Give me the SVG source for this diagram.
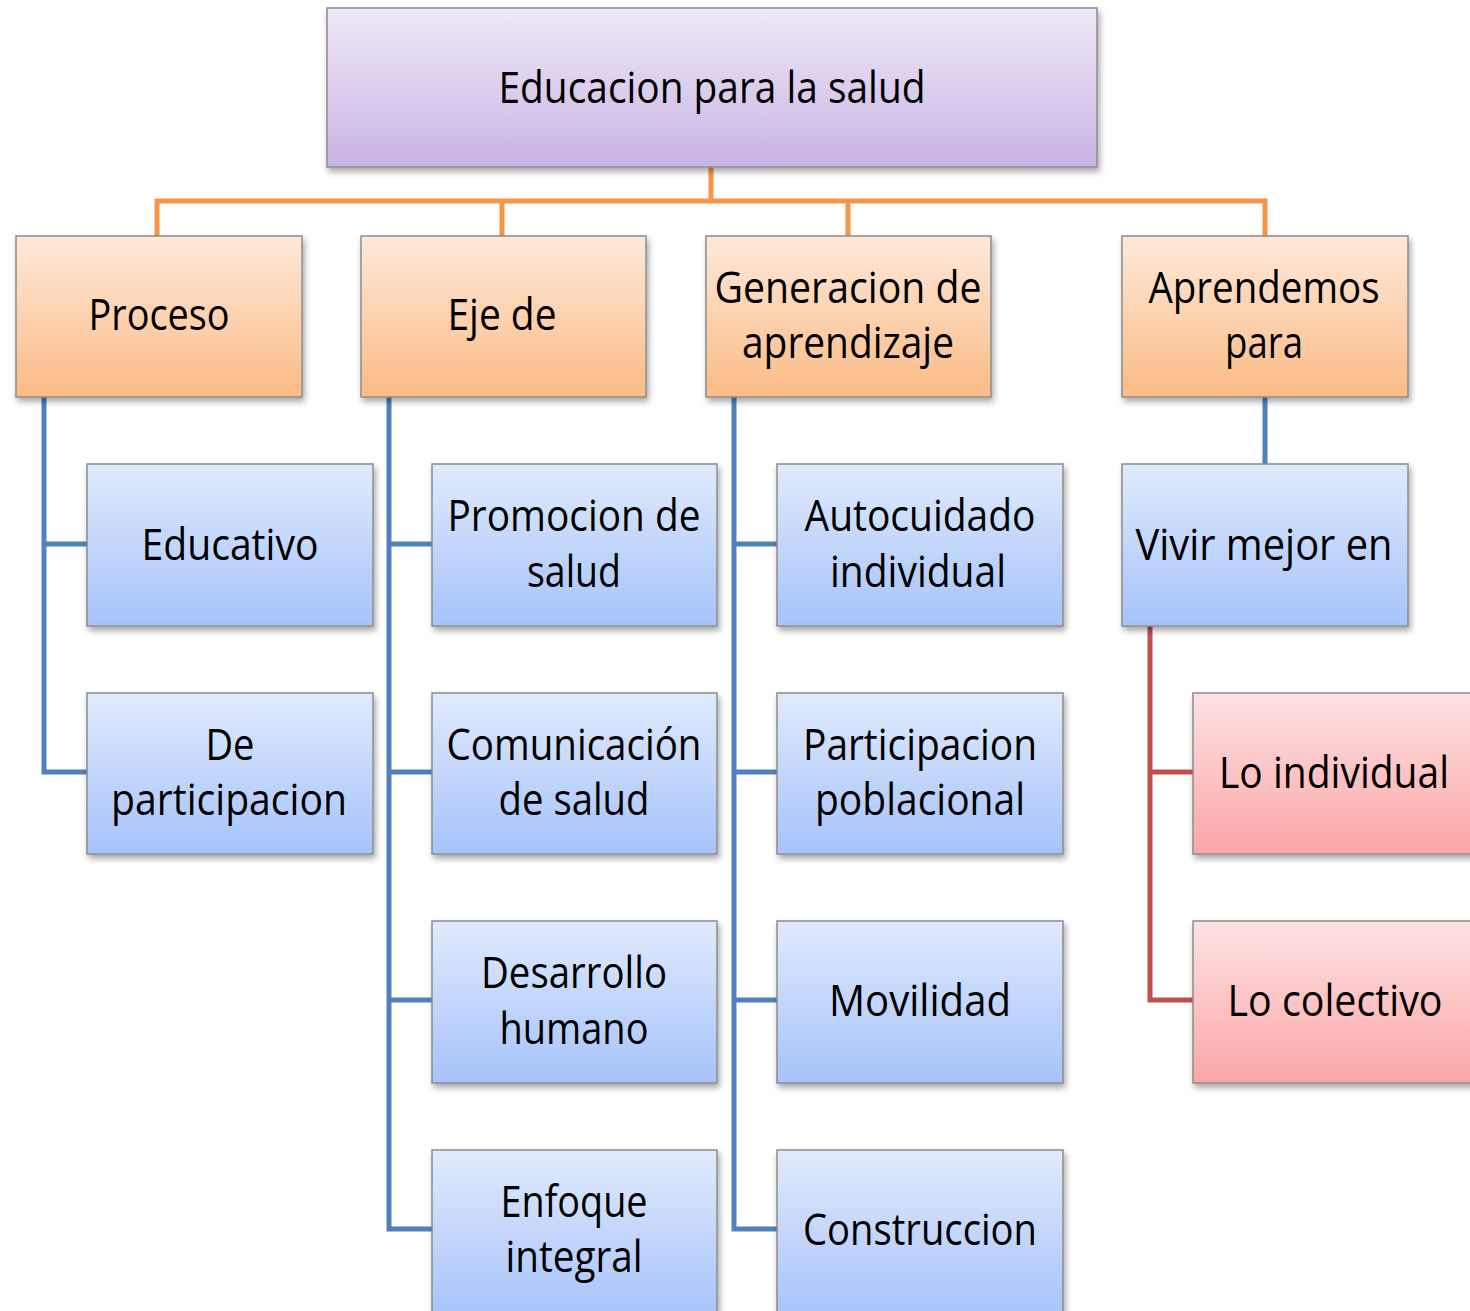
<svg xmlns="http://www.w3.org/2000/svg" width="1470" height="1311" viewBox="0 0 1470 1311">
<style>
.box{stroke:#8c8c8c;stroke-width:1.5}
.t{font-family:"Open Sans","Liberation Sans",sans-serif;font-size:44px;fill:#000;text-anchor:middle}
.c{fill:none;stroke-width:5;stroke-linejoin:miter}
.o{stroke:#f79646}.b{stroke:#4f81bd}.r{stroke:#c0504d}
</style>
<defs>
<linearGradient id="gp" x1="0" y1="0" x2="0" y2="1"><stop offset="0" stop-color="#efe9f7"/><stop offset="1" stop-color="#c8b4e4"/></linearGradient>
<linearGradient id="go" x1="0" y1="0" x2="0" y2="1"><stop offset="0" stop-color="#fee9da"/><stop offset="1" stop-color="#fbbb85"/></linearGradient>
<linearGradient id="gb" x1="0" y1="0" x2="0" y2="1"><stop offset="0" stop-color="#e0eafc"/><stop offset="1" stop-color="#a6c3fa"/></linearGradient>
<linearGradient id="gr" x1="0" y1="0" x2="0" y2="1"><stop offset="0" stop-color="#fde2e4"/><stop offset="1" stop-color="#fca6a6"/></linearGradient>
<filter id="sh" x="-5%" y="-5%" width="115%" height="120%"><feDropShadow dx="2" dy="4" stdDeviation="3" flood-color="#000" flood-opacity="0.35"/></filter>
</defs>

<g id="connectors">
<path class="c o" d="M711 167V201M157 236V201H1265V236M502 201V236M848 201V236"/>
<path class="c b" d="M44 397V772H87M44 544H87"/>
<path class="c b" d="M389 397V1229H432M389 544H432M389 772H432M389 1000H432"/>
<path class="c b" d="M734 397V1229H777M734 544H777M734 772H777M734 1000H777"/>
<path class="c b" d="M1265 397V464"/>
<path class="c r" d="M1150 626V1000H1193M1150 772H1193"/>
</g>

<g id="root"><rect class="box" x="327" y="8" width="770" height="159" fill="url(#gp)" filter="url(#sh)"/><text class="t" x="712" y="103" textLength="427" lengthAdjust="spacingAndGlyphs">Educacion para la salud</text></g>

<g id="proceso"><rect class="box" x="16" y="236" width="286" height="161" fill="url(#go)" filter="url(#sh)"/><text class="t" x="159" y="330" textLength="141" lengthAdjust="spacingAndGlyphs">Proceso</text></g>
<g id="eje"><rect class="box" x="361" y="236" width="285" height="161" fill="url(#go)" filter="url(#sh)"/><text class="t" x="502" y="330" textLength="109" lengthAdjust="spacingAndGlyphs">Eje de</text></g>
<g id="generacion"><rect class="box" x="706" y="236" width="285" height="161" fill="url(#go)" filter="url(#sh)"/><text class="t" x="848" y="303" textLength="267" lengthAdjust="spacingAndGlyphs">Generacion de</text><text class="t" x="848" y="358" textLength="212" lengthAdjust="spacingAndGlyphs">aprendizaje</text></g>
<g id="aprendemos"><rect class="box" x="1122" y="236" width="286" height="161" fill="url(#go)" filter="url(#sh)"/><text class="t" x="1264" y="303" textLength="231" lengthAdjust="spacingAndGlyphs">Aprendemos</text><text class="t" x="1264" y="358" textLength="78" lengthAdjust="spacingAndGlyphs">para</text></g>

<g id="educativo"><rect class="box" x="87" y="464" width="286" height="162" fill="url(#gb)" filter="url(#sh)"/><text class="t" x="230" y="560" textLength="177" lengthAdjust="spacingAndGlyphs">Educativo</text></g>
<g id="departicipacion"><rect class="box" x="87" y="693" width="286" height="161" fill="url(#gb)" filter="url(#sh)"/><text class="t" x="230" y="760" textLength="49" lengthAdjust="spacingAndGlyphs">De</text><text class="t" x="229" y="815" textLength="236" lengthAdjust="spacingAndGlyphs">participacion</text></g>

<g id="promocion"><rect class="box" x="432" y="464" width="285" height="162" fill="url(#gb)" filter="url(#sh)"/><text class="t" x="574" y="531" textLength="253" lengthAdjust="spacingAndGlyphs">Promocion de</text><text class="t" x="574" y="587" textLength="94" lengthAdjust="spacingAndGlyphs">salud</text></g>
<g id="comunicacion"><rect class="box" x="432" y="693" width="285" height="161" fill="url(#gb)" filter="url(#sh)"/><text class="t" x="574" y="760" textLength="255" lengthAdjust="spacingAndGlyphs">Comunicación</text><text class="t" x="574" y="815" textLength="151" lengthAdjust="spacingAndGlyphs">de salud</text></g>
<g id="desarrollo"><rect class="box" x="432" y="921" width="285" height="162" fill="url(#gb)" filter="url(#sh)"/><text class="t" x="574" y="988" textLength="186" lengthAdjust="spacingAndGlyphs">Desarrollo</text><text class="t" x="574" y="1044" textLength="149" lengthAdjust="spacingAndGlyphs">humano</text></g>
<g id="enfoque"><rect class="box" x="432" y="1150" width="285" height="170" fill="url(#gb)" filter="url(#sh)"/><text class="t" x="574" y="1217" textLength="147" lengthAdjust="spacingAndGlyphs">Enfoque</text><text class="t" x="574" y="1272" textLength="137" lengthAdjust="spacingAndGlyphs">integral</text></g>

<g id="autocuidado"><rect class="box" x="777" y="464" width="286" height="162" fill="url(#gb)" filter="url(#sh)"/><text class="t" x="920" y="531" textLength="231" lengthAdjust="spacingAndGlyphs">Autocuidado</text><text class="t" x="918" y="587" textLength="176" lengthAdjust="spacingAndGlyphs">individual</text></g>
<g id="participacionpob"><rect class="box" x="777" y="693" width="286" height="161" fill="url(#gb)" filter="url(#sh)"/><text class="t" x="920" y="760" textLength="234" lengthAdjust="spacingAndGlyphs">Participacion</text><text class="t" x="920" y="815" textLength="210" lengthAdjust="spacingAndGlyphs">poblacional</text></g>
<g id="movilidad"><rect class="box" x="777" y="921" width="286" height="162" fill="url(#gb)" filter="url(#sh)"/><text class="t" x="920" y="1016" textLength="182" lengthAdjust="spacingAndGlyphs">Movilidad</text></g>
<g id="construccion"><rect class="box" x="777" y="1150" width="286" height="170" fill="url(#gb)" filter="url(#sh)"/><text class="t" x="920" y="1245" textLength="234" lengthAdjust="spacingAndGlyphs">Construccion</text></g>

<g id="vivir"><rect class="box" x="1122" y="464" width="286" height="162" fill="url(#gb)" filter="url(#sh)"/><text class="t" x="1264" y="560" textLength="257" lengthAdjust="spacingAndGlyphs">Vivir mejor en</text></g>
<g id="loindividual"><rect class="box" x="1193" y="693" width="290" height="161" fill="url(#gr)" filter="url(#sh)"/><text class="t" x="1334" y="788" textLength="230" lengthAdjust="spacingAndGlyphs">Lo individual</text></g>
<g id="locolectivo"><rect class="box" x="1193" y="921" width="290" height="162" fill="url(#gr)" filter="url(#sh)"/><text class="t" x="1335" y="1016" textLength="215" lengthAdjust="spacingAndGlyphs">Lo colectivo</text></g>
</svg>
